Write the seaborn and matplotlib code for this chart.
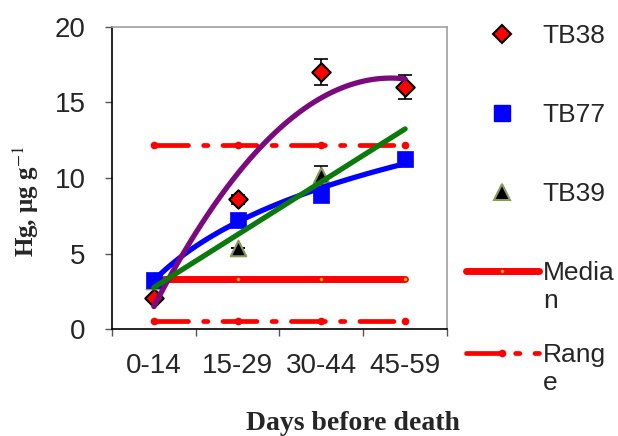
import numpy as np
import matplotlib
matplotlib.use("Agg")
import matplotlib.pyplot as plt
import seaborn as sns
from matplotlib.lines import Line2D
from matplotlib.legend_handler import HandlerLine2D

# values
days = ["0-14", "15-29", "30-44", "45-59"]
tb38 = [2.05, 8.6, 17.0, 16.0]
tb38_err = [0.0, 0.3, 0.85, 0.8]
tb77 = [3.25, 7.2, 8.9, 11.25]
tb39 = [3.2, 5.35, 10.2, np.nan]
tb39_err = [0.0, 0.0, 0.6, 0.0]
median_hg = [3.3, 3.3, 3.3, 3.3]
range_low = [0.5, 0.5, 0.5, 0.5]
range_high = [12.2, 12.2, 12.2, 12.2]

RED = "#FF0000"
BLUE = "#0000FF"
PURPLE = "#7A0A7E"
GREEN = "#0B7A0B"
OLIVE = "#8A9A5A"
range_ls = (0, (7.2, 3.2, 0.9, 3.2))

sns.set_theme(style="white")
plt.rcParams["font.family"] = ["Liberation Sans", "DejaVu Sans"]
plt.rcParams["mathtext.fontset"] = "stix"

pos = np.arange(1, len(days) + 1)
xs = np.linspace(1, 4, 120)

fig = plt.figure(figsize=(6.18, 4.36), dpi=100)
ax = fig.add_axes([0.1812, 0.2454, 0.5421, 0.6927])

# median / range reference lines
sns.lineplot(x=pos, y=median_hg, ax=ax, color=RED, lw=5, solid_capstyle="round",
             marker="o", markersize=2.5, markerfacecolor="#FFB000",
             markeredgecolor="none", zorder=1)
for rng in (range_low, range_high):
    sns.lineplot(x=pos, y=rng, ax=ax, color=RED, lw=3.4, linestyle=range_ls,
                 dash_capstyle="round", marker="o", markersize=5.5,
                 markeredgecolor="none", zorder=1)

# error bars
ax.errorbar(pos, tb38, yerr=tb38_err, fmt="none", ecolor="black",
            elinewidth=1.2, capsize=5, capthick=1.2, zorder=2)
ax.errorbar(pos, tb39, yerr=tb39_err, fmt="none", ecolor="black",
            elinewidth=1.2, capsize=5, capthick=1.2, zorder=2)

# sample markers
sns.scatterplot(x=pos, y=tb38, ax=ax, marker="D", s=88, color=RED,
                edgecolor="black", linewidth=1.5, zorder=3)
sns.scatterplot(x=pos, y=tb39, ax=ax, marker="^", s=125, color="black",
                edgecolor=OLIVE, linewidth=1.5, zorder=3)
sns.scatterplot(x=pos, y=tb77, ax=ax, marker="s", s=135, color=BLUE,
                edgecolor=BLUE, linewidth=0.5, zorder=3)

# trend lines
log_fit = np.polyfit(np.log(pos), tb77, 1)
sns.lineplot(x=xs, y=np.polyval(log_fit, np.log(xs)), ax=ax, color=BLUE,
             lw=3.8, zorder=4)
poly_fit = np.polyfit(pos, tb38, 2)
sns.lineplot(x=xs, y=np.polyval(poly_fit, xs), ax=ax, color=PURPLE,
             lw=3.8, solid_capstyle="round", zorder=4)
ok = ~np.isnan(tb39)
lin_fit = np.polyfit(pos[ok], np.array(tb39)[ok], 1)
sns.lineplot(x=xs, y=np.polyval(lin_fit, xs), ax=ax, color=GREEN,
             lw=3.8, solid_capstyle="round", zorder=4)

# axes styling
ax.set_xlim(0.5, 4.5)
ax.set_ylim(0, 20)
ax.set_yticks([0, 5, 10, 15, 20])
ax.set_xticks(np.arange(0.5, 5.0, 1.0))
ax.set_xticklabels([])
ax.set_xticks(pos, minor=True)
ax.set_xticklabels(days, minor=True)
ax.tick_params(axis="x", which="major", direction="out", length=5, width=1,
               color="#555555", bottom=True)
ax.tick_params(axis="x", which="minor", length=0, pad=17, labelsize=20)
ax.tick_params(axis="y", direction="out", length=5, width=1, color="#555555",
               left=True, pad=14, labelsize=20)
for side in ("left", "bottom"):
    ax.spines[side].set_color("black")
    ax.spines[side].set_linewidth(1.2)
for side in ("top", "right"):
    ax.spines[side].set_color("#A0A0A0")
    ax.spines[side].set_linewidth(1.2)

ax.set_ylabel(r"Hg, μg g$^{-1}$", family="Liberation Serif",
              fontweight="bold", fontsize=18)
ax.yaxis.set_label_coords(-0.212, 0.424)
ax.set_xlabel("Days before death", family="Liberation Serif",
              fontweight="bold", fontsize=20)
ax.xaxis.set_label_coords(0.72, -0.272)


class FirstLineHandler(HandlerLine2D):
    """Put the handle beside the first line of a wrapped label."""

    def __init__(self, shift, **kw):
        super().__init__(**kw)
        self.shift = shift

    def create_artists(self, *args, **kwargs):
        arts = super().create_artists(*args, **kwargs)
        for a in arts:
            a.set_ydata(np.asarray(a.get_ydata()) + self.shift)
        return arts


h38 = Line2D([], [], ls="none", marker="D", ms=9.4, mfc=RED, mec="black", mew=1.5)
h77 = Line2D([], [], ls="none", marker="s", ms=11.6, mfc=BLUE, mec=BLUE)
h39 = Line2D([], [], ls="none", marker="^", ms=11.2, mfc="black", mec=OLIVE, mew=1.5)
hmed = Line2D([], [], color=RED, lw=5, solid_capstyle="round", marker="o",
              ms=2.5, mfc="#FFB000", mec="none")
hrng = Line2D([], [], color=RED, lw=3.4, ls=range_ls, dash_capstyle="round",
              marker="o", ms=5.5, mec="none")

leg_kw = dict(frameon=False, fontsize=19, handlelength=2.76, handletextpad=0.15,
              labelspacing=2.08, numpoints=1, borderaxespad=0, borderpad=0)
leg1 = fig.legend([h38, h77, h39, hmed], ["TB38", "TB77", "TB39", "Media\nn"],
                  loc="upper left", bbox_to_anchor=(0.754, 0.944),
                  handler_map={hmed: FirstLineHandler(11.5)}, **leg_kw)
leg2 = fig.legend([hrng], ["Rang\ne"], loc="upper left",
                  bbox_to_anchor=(0.754, 0.2135),
                  handler_map={hrng: FirstLineHandler(11.5)}, **leg_kw)

fig.savefig("out.png", dpi=100)
